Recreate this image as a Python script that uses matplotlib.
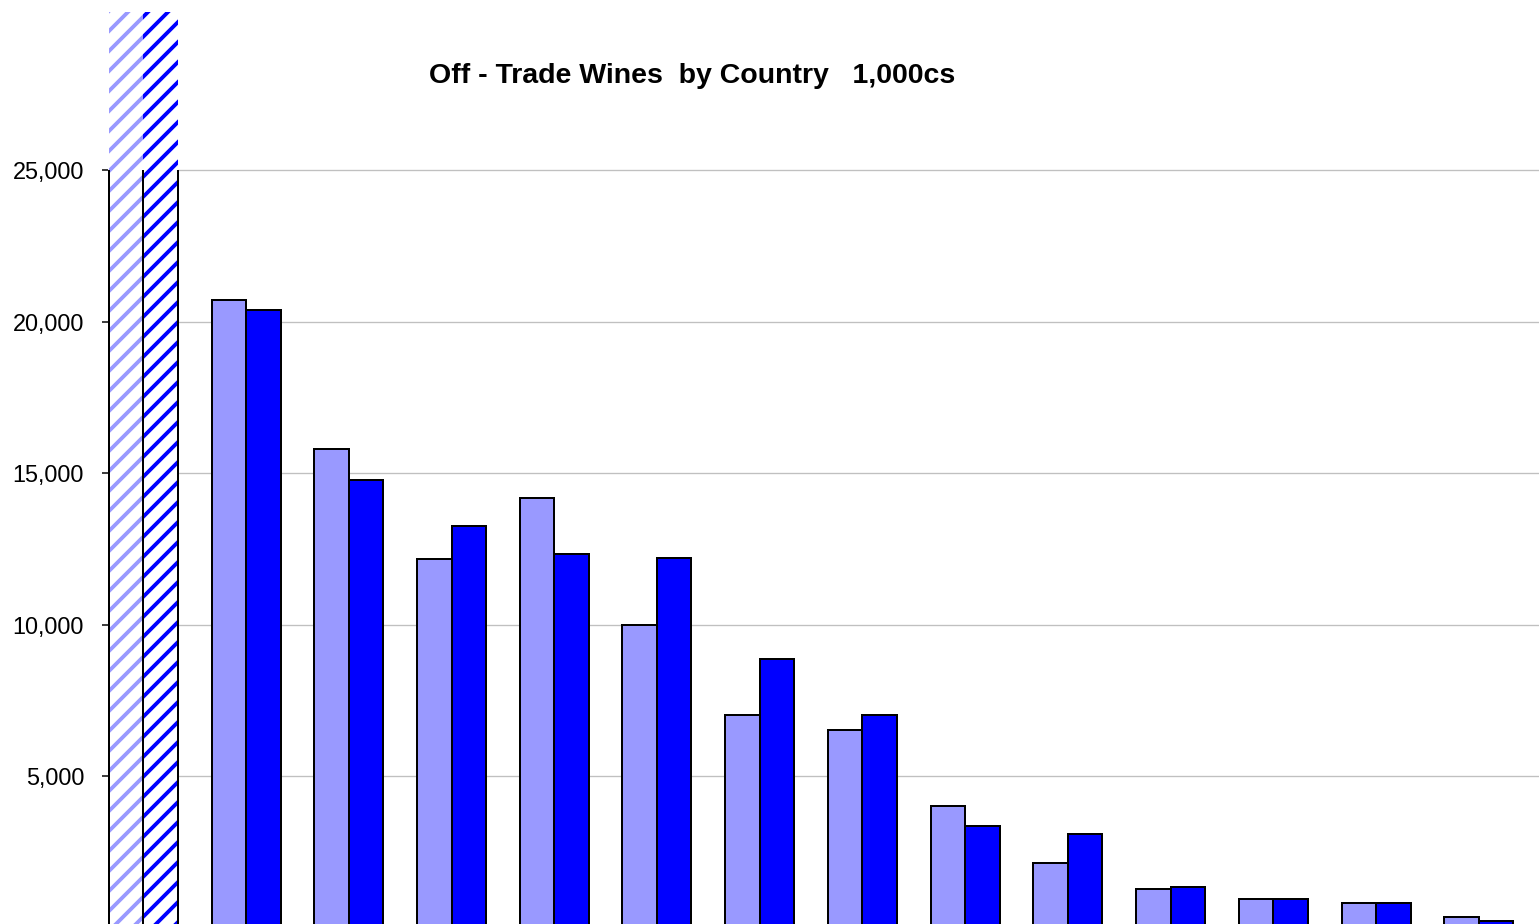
import numpy as np
import matplotlib
matplotlib.use("Agg")
import matplotlib.pyplot as plt

# ─── Data (1,000 cases) ───────────────────────────────────────────────────────

# first column is the all-country total, which runs off the scale
period_1 = [34000, 20710, 15800, 12150, 14170, 9980, 7030, 6510, 4020, 2130, 1265, 935, 800, 340]
period_2 = [34000, 20380, 14770, 13250, 12340, 12210, 8870, 7030, 3360, 3090, 1330, 935, 800, 210]
y_ticks = [5000, 10000, 15000, 20000, 25000]
title = "Off - Trade Wines  by Country   1,000cs"

LIGHT = "#9999FF"
DARK = "#0000FF"

plt.rcParams["font.family"] = ["Liberation Sans", "DejaVu Sans"]
plt.rcParams["hatch.linewidth"] = 2.3

DPI = 120
fig = plt.figure(figsize=(1539 / DPI, 924 / DPI), dpi=DPI)
ax = fig.add_axes([108 / 1539, -3.6 / 924, 1431 / 1539, 915.6 / 924])

x = np.arange(len(period_1))
w = 0.336

for vals, shift, col in ((period_1, -w / 2, LIGHT), (period_2, w / 2, DARK)):
    bars = ax.bar(x + shift, vals, w, color=col, edgecolor="black",
                  linewidth=1.2, zorder=3)
    # off-scale total: hatched, outlined only up to the top tick
    b = bars[0]
    b.set_facecolor("white")
    b.set_edgecolor(col)
    b.set_linewidth(0)
    b.set_hatch("//")
    ax.vlines([b.get_x(), b.get_x() + b.get_width()], 0,
              min(vals[0], y_ticks[-1]), colors="black", lw=1.2, zorder=4)

ax.set_xlim(-0.344, 13.586)
ax.set_ylim(0, 30218)
ax.set_yticks(y_ticks, labels=[f"{v:,}" for v in y_ticks])
ax.tick_params(axis="y", length=3.6, width=0.9, pad=10.8, labelsize=14.1)
ax.set_xticks([])
ax.yaxis.grid(True, color="#C0C0C0", lw=0.8)
ax.set_axisbelow(True)
for s in ax.spines.values():
    s.set_visible(False)

fig.text(692 / 1539, 1 - 76 / 924, title, ha="center", va="center",
         fontsize=17.1, fontweight="bold")

fig.savefig("out.png", dpi=DPI)
